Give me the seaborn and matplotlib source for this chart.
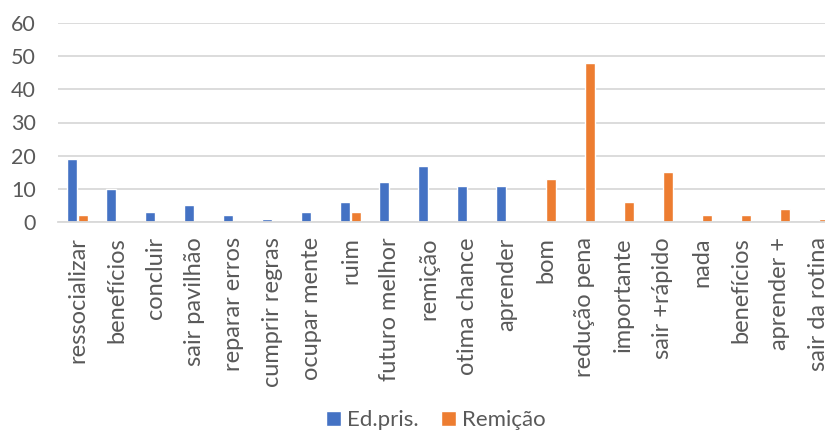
import matplotlib
matplotlib.use("Agg")
import matplotlib.pyplot as plt
import seaborn as sns
import pandas as pd

categories = ["ressocializar", "benefícios", "concluir", "sair pavilhão", "reparar erros",
              "cumprir regras", "ocupar mente", "ruim", "futuro melhor", "remição",
              "otima chance", "aprender", "bom", "redução pena", "importante",
              "sair +rápido", "nada", "benefícios", "aprender +", "sair da rotina"]
ed_pris = [19, 10, 3, 5, 2, 1, 3, 6, 12, 17, 11, 11, 0, 0, 0, 0, 0, 0, 0, 0]
remicao = [2, 0, 0, 0, 0, 0, 0, 3, 0, 0, 0, 0, 13, 48, 6, 15, 2, 2, 4, 1]
series_names = ["Ed.pris.", "Remição"]
y_ticks = [0, 10, 20, 30, 40, 50, 60]

rows = []
for i, cat in enumerate(categories):
    rows.append({"pos": i, "serie": series_names[0], "valor": ed_pris[i]})
    rows.append({"pos": i, "serie": series_names[1], "valor": remicao[i]})
df = pd.DataFrame(rows)

sns.set_theme(style="white")
plt.rcParams["font.family"] = ["Lato", "DejaVu Sans"]

fig = plt.figure(figsize=(8.25, 4.3), dpi=100)
ax = fig.add_axes([58 / 825, 208 / 430, 780 / 825, 199 / 430])

sns.barplot(data=df, x="pos", y="valor", hue="serie", hue_order=series_names,
            palette=["#4472C4", "#ED7D31"], saturation=1, width=0.6, gap=0.12,
            ax=ax, legend=True)

ax.set_ylim(0, 60)
ax.set_xlim(-0.5, len(categories) - 0.5)
ax.set_yticks(y_ticks)
ax.set_yticklabels([str(t) for t in y_ticks])
ax.set_xticks(range(len(categories)))
ax.set_xticklabels(categories, rotation=90)
ax.set_xlabel("")
ax.set_ylabel("")

ax.yaxis.grid(True, color="#D9D9D9", linewidth=1.3)
ax.set_axisbelow(True)
for side in ["top", "right", "left"]:
    ax.spines[side].set_visible(False)
ax.spines["bottom"].set_color("#D9D9D9")
ax.spines["bottom"].set_linewidth(1.3)
ax.tick_params(axis="y", length=0, pad=16, labelsize=15.5, labelcolor="#595959")
ax.tick_params(axis="x", length=0, pad=11, labelsize=17, labelcolor="#595959")

handles, labels = ax.get_legend_handles_labels()
ax.get_legend().remove()
fig.legend(handles, labels, loc="center", bbox_to_anchor=(436 / 825, 1 - 420 / 430),
           ncol=2, frameon=False, fontsize=16, labelcolor="#595959",
           handlelength=0.65, handleheight=0.65, handletextpad=0.3, columnspacing=1.0)

fig.savefig("out.png", dpi=100)
